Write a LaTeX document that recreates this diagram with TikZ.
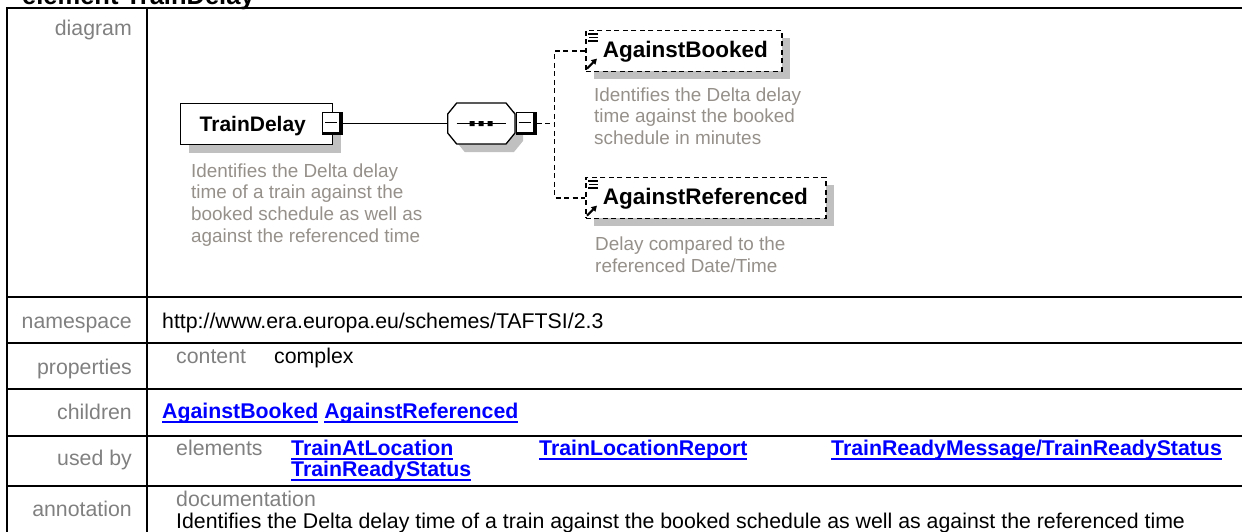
\documentclass[tikz,border=0pt]{standalone}
\usepackage{fontspec}
\setmainfont{Liberation Sans}
\usetikzlibrary{shadows,arrows.meta}
\definecolor{lblgray}{RGB}{128,128,128}
\definecolor{docgray}{RGB}{150,144,138}
\definecolor{shadegray}{RGB}{192,192,192}
\definecolor{linkblue}{RGB}{0,0,255}
\newcommand\tblfont{\fontsize{21.3pt}{25pt}\selectfont}
\newcommand\notefont{\fontsize{18.9pt}{21.7pt}\selectfont}
\newcommand\lnk[1]{\setbox0=\hbox{\bfseries #1}\rlap{\rule[-4.3pt]{\wd0}{1.8pt}}\box0\relax}
\newcommand\doclines[1]{\vtop{\baselineskip=21.7pt #1}}
\begin{document}
\begin{tikzpicture}[x=1pt,y=-1pt,
  tbl/.style={line width=2pt},
  lbl/.style={anchor=base east, inner sep=0pt, text=lblgray, font=\tblfont},
  val/.style={anchor=base west, inner sep=0pt, font=\tblfont},
  sublbl/.style={val, text=lblgray},
  linktext/.style={val, text=linkblue},
  note/.style={anchor=base west, inner sep=0pt, text=docgray, font=\notefont},
  boxshadow/.style={drop shadow={shadow xshift=8pt, shadow yshift=-8pt, fill=shadegray, opacity=1, draw=none}},
  elembox/.style={draw, line width=1.4pt, fill=white, inner sep=0pt, minimum height=41pt,
    anchor=north west, boxshadow, font=\bfseries\fontsize{22.5pt}{26pt}\selectfont,
    text height=14pt, text depth=1.5pt},
  optbox/.style={elembox, line width=1.6pt, dash pattern=on 5pt off 3.5pt},
  minusbox/.style={fill=black, inner sep=0pt, minimum width=21pt, minimum height=23pt,
    path picture={
      \fill[white] ([shift={(1.3pt,-1.3pt)}]path picture bounding box.north west)
        rectangle ([shift={(-3.6pt,3.3pt)}]path picture bounding box.south east);
      \draw[line width=1.3pt] ([shift={(3pt,1pt)}]path picture bounding box.west)
        -- ([shift={(-6pt,1pt)}]path picture bounding box.east);
    }},
  conn/.style={line width=1.3pt},
  optconn/.style={line width=1.6pt, dash pattern=on 5pt off 3.5pt},
  listicon/.pic={\draw[line width=1.1pt] (3,4.5) -- (13,4.5) (4,8) -- (13,8) (3,11.5) -- (13,11.5);},
  refarrow/.pic={\draw[line width=2pt,-{Triangle[length=5.5pt,width=6pt]}] (2,-3.5) -- (12,-13.5);}
]
\useasboundingbox (0,0) rectangle (1242,531);

% ---- page title (cropped at the top)
\node[anchor=base west, inner sep=0pt, font=\bfseries\fontsize{25.5pt}{30pt}\selectfont] (title) at (22,4.5) {element TrainDelay};

% ---- table grid
\draw[tbl] (7,8) rectangle (1270,580);
\draw[tbl] (147,8) -- (147,580);
\foreach \yy in {297,343,389,435.5,486} \draw[tbl] (7,\yy) -- (1270,\yy);

% ---- label column
\node[lbl] (ldiagram) at (132,35) {diagram};
\node[lbl] (lns) at (132,328.7) {namespace};
\node[lbl] (lprop) at (132,374) {properties};
\node[lbl] (lchild) at (132,419.3) {children};
\node[lbl] (lused) at (132,465.7) {used by};
\node[lbl] (lann) at (132,516) {annotation};

% ---- values
\node[val] (vns) at (162,328.3) {http://www.era.europa.eu/schemes/TAFTSI/2.3};
\node[sublbl] (vcontent) at (176,363.3) {content};
\node[val] (vcomplex) at (274,363.3) {complex};
\node[linktext] (vchild) at (162,418.3) {\lnk{AgainstBooked} \lnk{AgainstReferenced}};
\node[sublbl] (velements) at (176,455.7) {elements};
\node[linktext] (u1) at (291,455.7) {\lnk{TrainAtLocation}};
\node[linktext] (u2) at (539,455.7) {\lnk{TrainLocationReport}};
\node[linktext] (u3) at (831,455.7) {\lnk{TrainReadyMessage/TrainReadyStatus}};
\node[linktext] (u4) at (291,476.7) {\lnk{TrainReadyStatus}};
\node[sublbl] (vdocum) at (176,506) {documentation};
\node[val] (vdoctext) at (176,528.3) {Identifies the Delta delay time of a train against the booked schedule as well as against the referenced time};

% ---- diagram: root element
\node[elembox, font=\bfseries\fontsize{21pt}{25pt}\selectfont, text height=15pt, text depth=0pt]
  (td) at (180,103) {\makebox[152pt][l]{\hspace{19pt}TrainDelay}};
\node[minusbox] (m1) at (332.5,123.5) {};
\node[note] (tdnote) at (191,177) {\doclines{\hbox{Identifies the Delta delay}\hbox{time of a train against the}\hbox{booked schedule as well as}\hbox{against the referenced time}}};

% ---- sequence compositor
\node[inner sep=0pt, minimum width=67.3pt, minimum height=41pt] (seq) at (481.35,123.5) {};
\fill[shadegray] (455.7,122) -- (464.7,111) -- (514,111) -- (523,122) -- (523,141) -- (514,152) -- (464.7,152) -- (455.7,141) -- cycle;
\draw[conn, fill=white] (447.7,114) -- (456.7,103) -- (506,103) -- (515,114) -- (515,133) -- (506,144) -- (456.7,144) -- (447.7,133) -- cycle;
\draw[conn] (456.7,123.5) -- (506,123.5);
\fill (469.5,121) rectangle (474.5,126) (478.5,121) rectangle (483.5,126) (487.5,121) rectangle (492.5,126);
\node[minusbox] (m2) at (526,123.5) {};

% ---- child elements
\node[optbox] (ab) at (585,29.5) {\makebox[196pt][l]{\hspace{17pt}AgainstBooked}};
\pic at (ab.north west) {listicon};
\pic at (ab.south west) {refarrow};
\node[note] (abnote) at (594,101) {\doclines{\hbox{Identifies the Delta delay}\hbox{time against the booked}\hbox{schedule in minutes}}};

\node[optbox] (ar) at (585,176.5) {\makebox[240pt][l]{\hspace{17pt}AgainstReferenced}};
\pic at (ar.north west) {listicon};
\pic at (ar.south west) {refarrow};
\node[note] (arnote) at (595,250.5) {\doclines{\hbox{Delay compared to the}\hbox{referenced Date/Time}}};

% ---- connectors
\coordinate (j) at (554.5,123.5);
\draw[conn] (m1.east) -- (seq.west);
\draw[optconn] (m2.east) -- (j);
\draw[optconn] (ab.west) -| (j) |- (ar.west);
\end{tikzpicture}
\end{document}
